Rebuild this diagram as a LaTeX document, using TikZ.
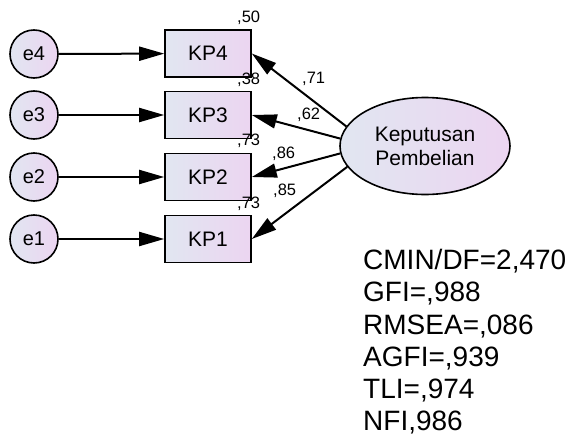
\documentclass[tikz,border=0pt]{standalone}
\usepackage{fontspec}
\setmainfont{Liberation Sans}
\usetikzlibrary{shapes,arrows.meta,positioning}
\definecolor{fillblue}{RGB}{225,230,241}
\definecolor{fillpink}{RGB}{236,213,241}

\begin{document}
\begin{tikzpicture}[x=1pt, y=-1pt,
    obsbox/.style={rectangle, draw, line width=1.6pt, minimum width=86pt, minimum height=47pt, left color=fillblue, right color=fillpink, font=\fontsize{21}{25}\selectfont},
    errcirc/.style={circle, draw, line width=1.6pt, minimum size=48pt, inner sep=0pt, left color=fillblue, right color=fillpink, font=\fontsize{20}{24}\selectfont},
    latent/.style={ellipse, draw, line width=1.6pt, minimum width=170pt, minimum height=97pt, inner sep=0pt, align=center, left color=fillblue, right color=fillpink, font=\fontsize{21}{24}\selectfont},
    arrow/.style={-{Triangle[length=25pt, width=14pt]}, line width=2pt},
    coef/.style={anchor=base west, inner sep=0pt, font=\fontsize{16.5}{18}\selectfont}
]
    \useasboundingbox (0,0) rectangle (574,442);

    % error terms
    \node[errcirc] (e4) at (34,54) {e4};
    \node[errcirc] (e3) at (34,115) {e3};
    \node[errcirc] (e2) at (34,177) {e2};
    \node[errcirc] (e1) at (34,239) {e1};

    % indicators
    \node[obsbox] (kp4) at (208,53.5) {KP4};
    \node[obsbox] (kp3) at (208,115) {KP3};
    \node[obsbox] (kp2) at (208,177) {KP2};
    \node[obsbox] (kp1) at (208,239) {KP1};

    % latent
    \node[latent] (kepu) at (425,146) {Keputusan\\Pembelian};

    \foreach \i in {1,...,4}
        \draw[arrow] (e\i) -- (kp\i);

    \draw[arrow] (kepu.166) -- (kp4.east);
    \draw[arrow] (kepu.175) -- (kp3.east);
    \draw[arrow] (kepu.185) -- (kp2.east);
    \draw[arrow] (kepu.195) -- (kp1.east);

    % squared multiple correlations
    \node[coef] (r4) at (237,22) {,50};
    \node[coef] (r3) at (237,84) {,38};
    \node[coef] (r2) at (237,145) {,73};
    \node[coef] (r1) at (237,208) {,73};

    % loadings
    \node[coef] (l4) at (302,83) {,71};
    \node[coef] (l3) at (297,119) {,62};
    \node[coef] (l2) at (272,158) {,86};
    \node[coef] (l1) at (273,195) {,85};

    % fit indices
    \node[anchor=north west, inner sep=0pt, align=left, font=\fontsize{28}{32.3}\selectfont] (fit) at (363,249) {
        CMIN/DF=2,470\\
        GFI=,988\\
        RMSEA=,086\\
        AGFI=,939\\
        TLI=,974\\
        NFI,986
    };
\end{tikzpicture}
\end{document}
